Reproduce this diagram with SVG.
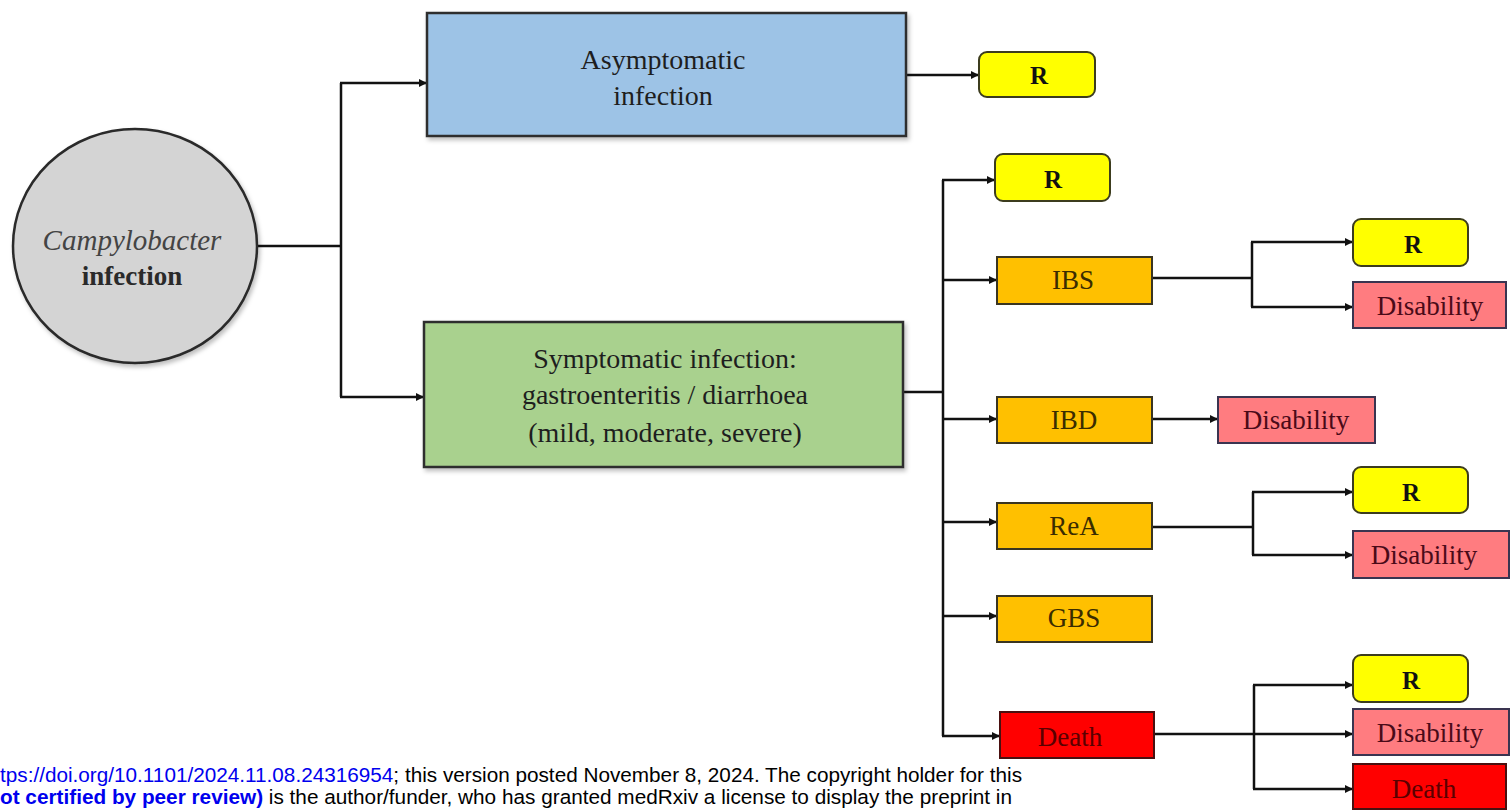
<svg xmlns="http://www.w3.org/2000/svg" width="1512" height="812" viewBox="0 0 1512 812">
<defs>
<marker id="ah" viewBox="0 0 10 10" refX="10" refY="5" markerWidth="10" markerHeight="8" markerUnits="userSpaceOnUse" orient="auto">
<path d="M0,0 L10,5 L0,10 z" fill="#111"/>
</marker>
<filter id="sh" x="-5%" y="-5%" width="115%" height="120%">
<feDropShadow dx="2" dy="3" stdDeviation="2" flood-color="#000" flood-opacity="0.25"/>
</filter>
</defs>
<style>
.t{font-family:"Liberation Serif","Times New Roman",serif;font-size:27px;text-anchor:middle;dominant-baseline:central}
.big{font-size:28px;fill:#1e1e1e}
.c{stroke:#111;stroke-width:2.5;fill:none}
.a{marker-end:url(#ah)}
.yel{fill:#ffff00;stroke:#3c3c1e;stroke-width:2}
.ora{fill:#ffc000;stroke:#3a3520;stroke-width:2}
.pnk{fill:#ff7c80;stroke:#3a3450;stroke-width:2}
.red{fill:#ff0000;stroke:#4a1010;stroke-width:2}
.ry{font-size:25px;font-weight:bold;fill:#111}
.ro{fill:#3a2c00}
.rp{fill:#4a0a18}
.rr{fill:#5a0000}
.f{font-family:"Liberation Sans",Arial,sans-serif;font-size:20.5px;fill:#000}
.bl{fill:#0000ee}
</style>
<rect width="1512" height="812" fill="#ffffff"/>

<g id="connectors">
<line class="c" x1="257" y1="246" x2="341" y2="246"/>
<line class="c" x1="341" y1="83" x2="341" y2="397"/>
<line class="c a" x1="340" y1="83" x2="427" y2="83"/>
<line class="c a" x1="340" y1="397" x2="424" y2="397"/>
<line class="c a" x1="906" y1="75" x2="979" y2="75"/>
<line class="c" x1="903" y1="392" x2="943" y2="392"/>
<line class="c" x1="943" y1="180" x2="943" y2="736"/>
<line class="c a" x1="942" y1="180" x2="995" y2="180"/>
<line class="c a" x1="942" y1="280" x2="997" y2="280"/>
<line class="c a" x1="942" y1="419" x2="997" y2="419"/>
<line class="c a" x1="942" y1="522" x2="997" y2="522"/>
<line class="c a" x1="942" y1="616" x2="997" y2="616"/>
<line class="c a" x1="942" y1="736" x2="1000" y2="736"/>
<line class="c" x1="1152" y1="278" x2="1252" y2="278"/>
<line class="c" x1="1252" y1="242" x2="1252" y2="307"/>
<line class="c a" x1="1251" y1="242" x2="1353" y2="242"/>
<line class="c a" x1="1251" y1="307" x2="1353" y2="307"/>
<line class="c a" x1="1152" y1="419" x2="1218" y2="419"/>
<line class="c" x1="1152" y1="527" x2="1253" y2="527"/>
<line class="c" x1="1253" y1="492" x2="1253" y2="555"/>
<line class="c a" x1="1252" y1="492" x2="1353" y2="492"/>
<line class="c a" x1="1252" y1="555" x2="1353" y2="555"/>
<line class="c a" x1="1154" y1="734" x2="1353" y2="734"/>
<line class="c" x1="1254" y1="685" x2="1254" y2="789"/>
<line class="c a" x1="1253" y1="685" x2="1353" y2="685"/>
<line class="c a" x1="1253" y1="789" x2="1353" y2="789"/>
</g>

<g id="campylobacter">
<ellipse cx="135" cy="246" rx="122" ry="117" fill="#d4d4d4" stroke="#2a2a2a" stroke-width="2.5" filter="url(#sh)"/>
<text x="132" y="240" class="t" style="font-size:29px;font-style:italic;fill:#444">Campylobacter</text>
<text x="132" y="276" class="t" style="font-size:27px;font-weight:bold;fill:#2a2a2a">infection</text>
</g>

<g id="asymptomatic">
<rect x="427" y="13" width="479" height="123" fill="#9dc3e6" stroke="#2e2e2e" stroke-width="2.5" filter="url(#sh)"/>
<text x="663" y="59" class="t big">Asymptomatic</text>
<text x="663" y="95" class="t big">infection</text>
</g>

<g id="symptomatic">
<rect x="424" y="322" width="479" height="145" fill="#a9d18e" stroke="#2e2e2e" stroke-width="2.5" filter="url(#sh)"/>
<text x="665" y="358" class="t big">Symptomatic infection:</text>
<text x="665" y="394" class="t big">gastroenteritis / diarrhoea</text>
<text x="665" y="432" class="t big">(mild, moderate, severe)</text>
</g>

<g id="r-asym"><rect x="979" y="52" width="116" height="45" rx="8" class="yel"/><text x="1039" y="75" class="t ry">R</text></g>
<g id="r-sym"><rect x="995" y="154" width="115" height="47" rx="8" class="yel"/><text x="1053" y="179" class="t ry">R</text></g>
<g id="ibs"><rect x="997" y="257" width="155" height="47" class="ora"/><text x="1073" y="280" class="t ro">IBS</text></g>
<g id="ibd"><rect x="997" y="397" width="155" height="46" class="ora"/><text x="1074" y="420" class="t ro">IBD</text></g>
<g id="rea"><rect x="997" y="503" width="155" height="46" class="ora"/><text x="1074" y="526" class="t ro">ReA</text></g>
<g id="gbs"><rect x="997" y="596" width="155" height="46" class="ora"/><text x="1074" y="618" class="t ro">GBS</text></g>
<g id="death"><rect x="1000" y="712" width="154" height="46" class="red"/><text x="1070" y="737" class="t rr">Death</text></g>

<g id="ibs-r"><rect x="1353" y="219" width="115" height="47" rx="8" class="yel"/><text x="1413" y="244" class="t ry">R</text></g>
<g id="ibs-disability"><rect x="1353" y="282" width="153" height="46" class="pnk"/><text x="1430" y="306" class="t rp">Disability</text></g>
<g id="ibd-disability"><rect x="1218" y="397" width="157" height="46" class="pnk"/><text x="1296" y="420" class="t rp">Disability</text></g>
<g id="rea-r"><rect x="1353" y="467" width="115" height="46" rx="8" class="yel"/><text x="1411" y="492" class="t ry">R</text></g>
<g id="rea-disability"><rect x="1353" y="531" width="156" height="47" class="pnk"/><text x="1424" y="555" class="t rp">Disability</text></g>
<g id="death-r"><rect x="1353" y="655" width="115" height="47" rx="8" class="yel"/><text x="1411" y="680" class="t ry">R</text></g>
<g id="death-disability"><rect x="1353" y="709" width="156" height="46" class="pnk"/><text x="1430" y="733" class="t rp">Disability</text></g>
<g id="death-death"><rect x="1353" y="764" width="153" height="45" class="red"/><text x="1424" y="789" class="t rr">Death</text></g>

<g id="footer">
<text x="0" y="782" class="f" textLength="1022" lengthAdjust="spacingAndGlyphs"><tspan class="bl">tps://doi.org/10.1101/2024.11.08.24316954</tspan>; this version posted November 8, 2024. The copyright holder for this</text>
<text x="0" y="804" class="f" textLength="1012" lengthAdjust="spacingAndGlyphs"><tspan class="bl" font-weight="bold">ot certified by peer review)</tspan> is the author/funder, who has granted medRxiv a license to display the preprint in</text>
</g>
</svg>
